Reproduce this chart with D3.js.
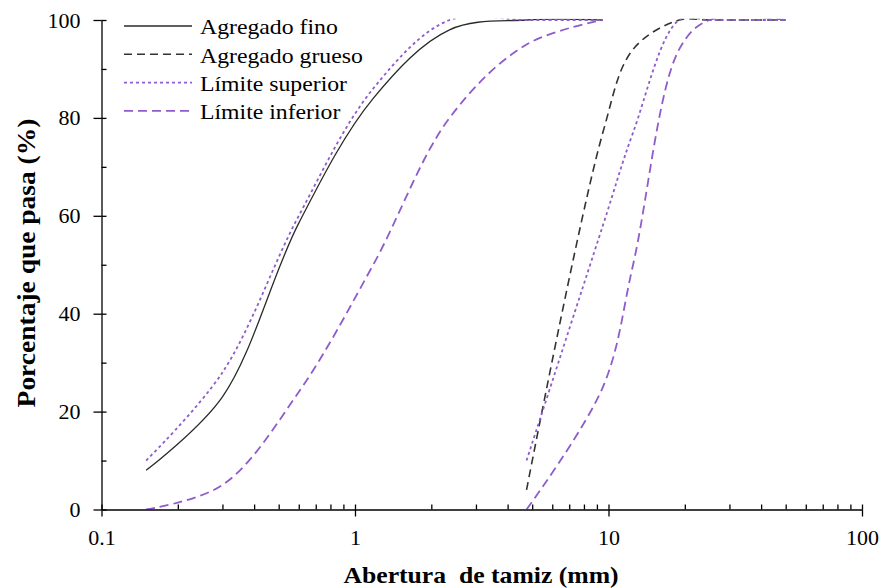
<!DOCTYPE html>
<html>
<head>
<meta charset="utf-8">
<script src="https://cdnjs.cloudflare.com/ajax/libs/d3/7.8.5/d3.min.js"></script>
<style>
  body { margin: 0; background: #fff; }
  svg { display: block; font-family: "Liberation Serif", "Times New Roman", serif; }
  .axis path, .axis line { stroke: #000; stroke-width: 1.3; }
  .axis text { font-family: "Liberation Serif", serif; font-size: 22px; fill: #000; }
</style>
</head>
<body>
<svg id="chart" width="882" height="588"></svg>
<script>
// tamices (mm)
var tamicesFino = [0.15, 0.3, 0.6, 1.18, 2.36, 4.75, 9.5];
var tamicesGrueso = [4.75, 9.5, 12.5, 19, 25, 50];

// porcentaje que pasa (%)
var pasaFino = [8, 23, 58.5, 84, 98, 100, 100];
var supFino = [10, 28, 60, 86, 100, 100, 100];
var infFino = [0, 5, 24, 50, 80, 95, 100];

var pasaGrueso = [4, 77, 94, 100, 100, 100];
var supGrueso = [10, 58, 77, 100, 100, 100];
var infGrueso = [0, 25, 50, 94, 100, 100];

var xMajor = [0.1, 1, 10, 100];
var xMinor = [0.2, 0.3, 0.4, 0.5, 0.6, 0.7, 0.8, 0.9, 2, 3, 4, 5, 6, 7, 8, 9, 20, 30, 40, 50, 60, 70, 80, 90];
var yMajor = [0, 20, 40, 60, 80, 100];
var yMinor = [10, 30, 50, 70, 90];

var legendLabels = ['Agregado fino', 'Agregado grueso', 'Límite superior', 'Límite inferior'];

var PURPLE = '#8e5ccb';
var styles = {
  fino: { stroke: '#2a2a2a', width: 1.3, dash: null },
  grueso: { stroke: '#333', width: 1.6, dash: '8,5' },
  superior: { stroke: PURPLE, width: 1.8, dash: '3,3' },
  inferior: { stroke: PURPLE, width: 1.8, dash: '9,5' }
};

var svg = d3.select('#chart');
var plot = { left: 101.5, right: 862, top: 20, bottom: 509.5 };

var x = d3.scaleLog().domain([0.1, 100]).range([plot.left, plot.right]);
var y = d3.scaleLinear().domain([0, 100]).range([plot.bottom, plot.top]);

function pairs(xs, ys) {
  return xs.map(function(d, i) { return [d, ys[i]]; });
}

var series = [
  { key: 'fino', values: pairs(tamicesFino, pasaFino) },
  { key: 'grueso', values: pairs(tamicesGrueso, pasaGrueso) },
  { key: 'superior', values: pairs(tamicesFino, supFino) },
  { key: 'superior', values: pairs(tamicesGrueso, supGrueso) },
  { key: 'inferior', values: pairs(tamicesFino, infFino) },
  { key: 'inferior', values: pairs(tamicesGrueso, infGrueso) }
];

// lines are smoothed like the spreadsheet and clipped at the 100 % border
svg.append('clipPath').attr('id', 'plot-clip')
  .append('rect')
  .attr('x', plot.left).attr('y', plot.top - 1.2)
  .attr('width', plot.right - plot.left).attr('height', plot.bottom - plot.top + 1.2);

var line = d3.line()
  .x(function(d) { return x(d[0]); })
  .y(function(d) { return y(d[1]); })
  .curve(d3.curveCatmullRom.alpha(0.5));

svg.append('g')
  .attr('clip-path', 'url(#plot-clip)')
  .selectAll('path')
  .data(series)
  .enter()
  .append('path')
  .attr('d', function(d) { return line(d.values); })
  .attr('fill', 'none')
  .attr('stroke', function(d) { return styles[d.key].stroke; })
  .attr('stroke-width', function(d) { return styles[d.key].width; })
  .attr('stroke-dasharray', function(d) { return styles[d.key].dash; });

// x axis: major ticks cross the line, minor ticks point inward
svg.append('g')
  .attr('class', 'axis')
  .attr('transform', 'translate(0,' + plot.bottom + ')')
  .call(d3.axisBottom(x).tickValues(xMajor).tickSizeInner(7).tickSizeOuter(0).tickPadding(13)
    .tickFormat(function(d) { return String(d); }));

svg.append('g')
  .attr('class', 'axis')
  .attr('transform', 'translate(0,' + plot.bottom + ')')
  .call(d3.axisTop(x).tickValues(xMajor.concat(xMinor)).tickSize(5).tickFormat(''))
  .select('.domain').remove();

svg.append('g')
  .attr('class', 'axis')
  .attr('transform', 'translate(' + plot.left + ',0)')
  .call(d3.axisLeft(y).tickValues(yMajor).tickSizeInner(8).tickSizeOuter(0).tickPadding(13));

svg.append('g')
  .attr('class', 'axis')
  .attr('transform', 'translate(' + plot.left + ',0)')
  .call(d3.axisRight(y).tickValues(yMajor.concat(yMinor)).tickSize(5).tickFormat(''))
  .select('.domain').remove();

// axis titles
svg.append('text')
  .attr('transform', 'translate(481,583) scale(1.07,1)')
  .attr('text-anchor', 'middle')
  .style('white-space', 'pre')
  .attr('font-weight', 'bold')
  .attr('font-size', 24)
  .text('Abertura  de tamiz (mm)');

svg.append('text')
  .attr('transform', 'translate(35,263) rotate(-90) scale(1.1,1)')
  .attr('text-anchor', 'middle')
  .attr('font-weight', 'bold')
  .attr('font-size', 25)
  .text('Porcentaje que pasa (%)');

// legend
var legendKeys = ['fino', 'grueso', 'superior', 'inferior'];
var legend = svg.append('g')
  .selectAll('g')
  .data(legendKeys)
  .enter()
  .append('g')
  .attr('transform', function(d, i) { return 'translate(124,' + (26 + i * 28.3) + ')'; });

legend.append('line')
  .attr('x1', 0).attr('x2', 68)
  .attr('stroke', function(d) { return styles[d].stroke; })
  .attr('stroke-width', function(d) { return styles[d].width; })
  .attr('stroke-dasharray', function(d) { return styles[d].dash; });

legend.append('text')
  .attr('transform', 'translate(76,8.3) scale(1.08,1)')
  .attr('font-size', 22)
  .text(function(d, i) { return legendLabels[i]; });
</script>
</body>
</html>
